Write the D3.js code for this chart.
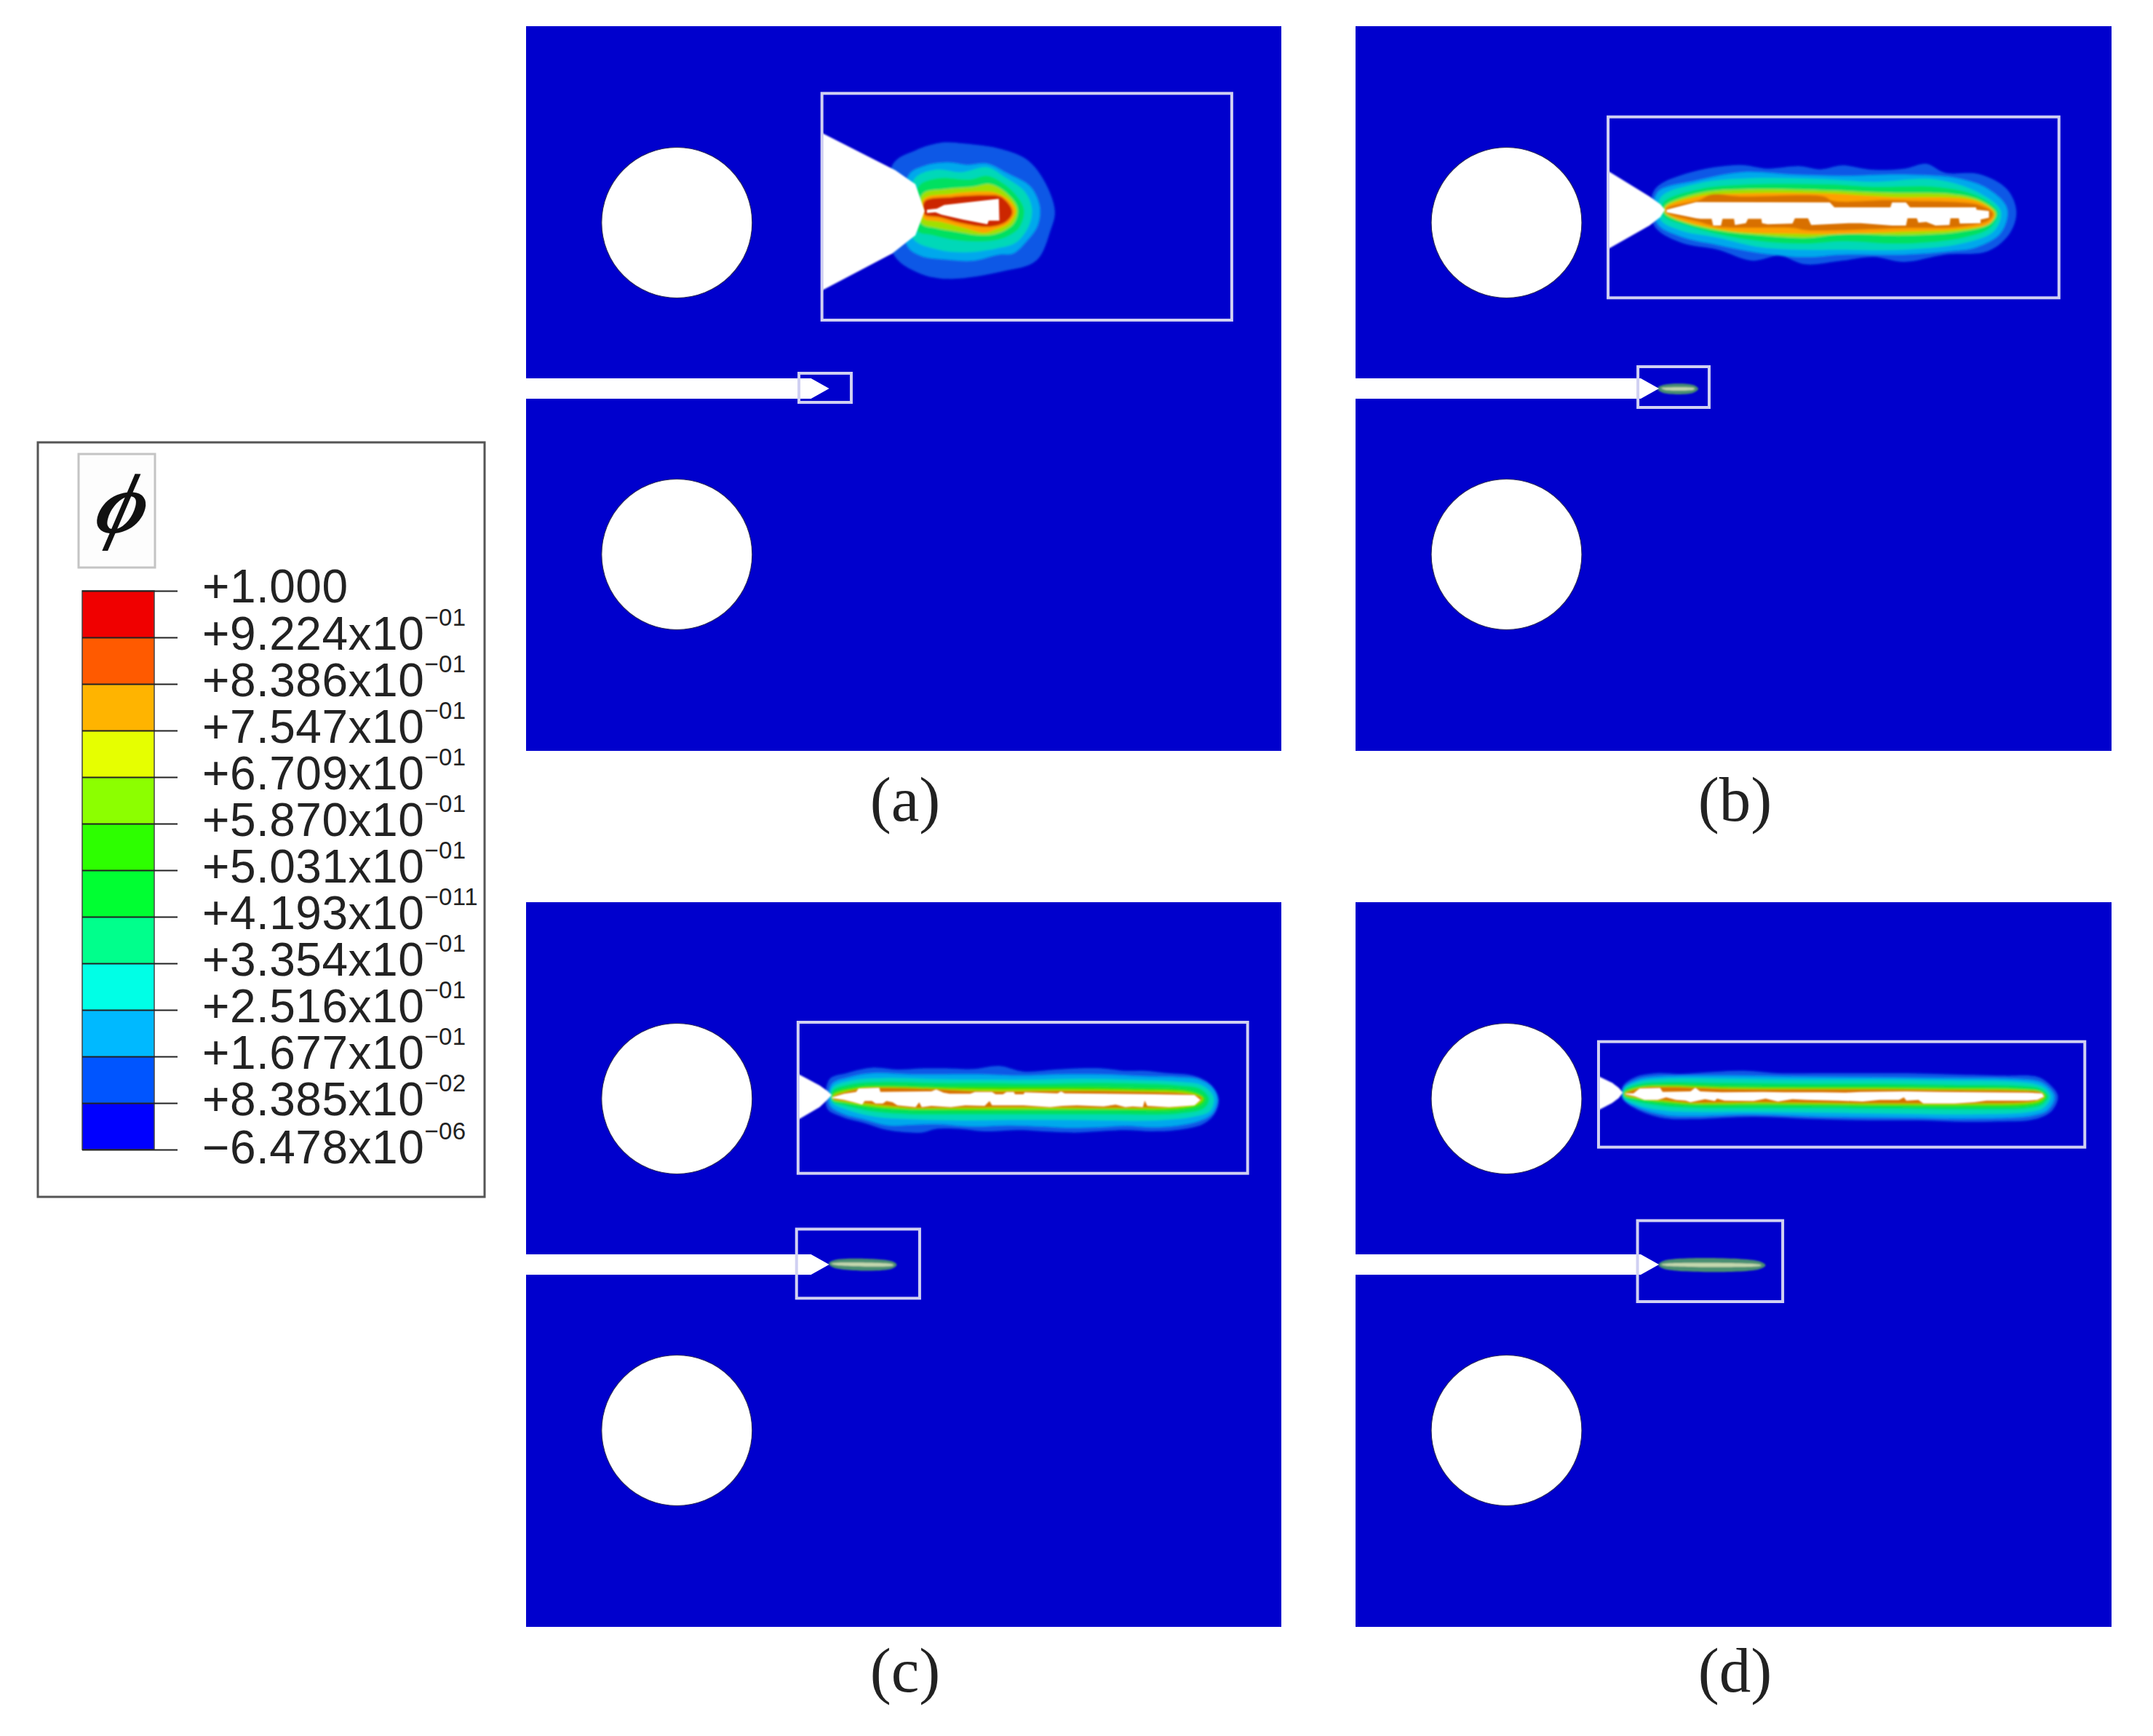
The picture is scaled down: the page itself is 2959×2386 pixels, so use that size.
<!DOCTYPE html>
<html><head><meta charset="utf-8">
<style>html,body{margin:0;background:#fff}svg{display:block}</style>
<script src="https://cdn.jsdelivr.net/npm/d3@7/dist/d3.min.js"></script>
</head><body><script>
// ---------- legend ----------
const legendLabels = [["+1.000",""],["+9.224x10","−01"],["+8.386x10","−01"],["+7.547x10","−01"],["+6.709x10","−01"],["+5.870x10","−01"],["+5.031x10","−01"],["+4.193x10","−011"],["+3.354x10","−01"],["+2.516x10","−01"],["+1.677x10","−01"],["+8.385x10","−02"],["−6.478x10","−06"]];
const legendColors = ["#f00000","#ff5a00","#ffb400","#e6ff00","#8cff00","#2dff00","#00ff32","#00ff8c","#00ffe6","#00b9ff","#0055ff","#0000ff"];
// ---------- field colours, outside to inside ----------
const bandColors = ["#0a58e6","#00a8ec","#00d8b8","#00e060","#20e000","#a0e000","#ffa000","#cc2800","#4a8f72","#c4d8ae","#d87000"];
const panelLabels = ["(a)","(b)","(c)","(d)"];
// ---------- plate geometry (plate units) ----------
const holeCentres = [[207.5,270],[207.5,726]];
const holeRadius = 103.5;
const notch = [[0,484],[392,484],[417,498],[392,512],[0,512]];
// ---------- zoom-window frames, in window units ----------
const framesA = [[75,55,1500,990],[-5,1209,177,1329]];
const framesB = [[47,32,1497,778],[143,1062,372,1230]];
const framesC = [[40,45,1508,668],[35,898,437,1183]];
const framesD = [[38,65,1535,500],[158,803,605,1137]];
// ---------- wedge (enlarged crack tip) ----------
const wedgeA = [[75,218],[330,372],[400,430],[432,540],[400,640],[320,715],[75,868]];
const wedgeB = [[47,255],[180,360],[215,392],[230,415],[215,445],[180,480],[47,577]];
const wedgeC = [[40,258],[110,305],[135,328],[150,345],[135,365],[110,395],[40,447]];
const wedgeD = [[38,208],[80,235],[100,255],[113,275],[100,298],[80,318],[38,347]];
// ---------- contour bands [colour index, outline] ----------
const fieldA = [
 [0,[[320,350],[400,290],[490,258],[570,262],[700,285],[790,330],[850,420],[885,540],[870,620],[820,745],[700,790],[510,820],[400,790],[320,710]]],
 [1,[[375,395],[430,355],[510,340],[580,350],[650,345],[720,385],[800,440],[832,520],[825,600],[790,660],[740,715],[690,720],[600,745],[510,740],[420,725],[370,680]]],
 [2,[[395,410],[470,370],[560,380],[650,360],[710,400],[780,460],[805,530],[795,600],[750,670],[680,695],[580,710],[480,700],[390,650]]],
 [3,[[410,440],[480,405],[590,410],[650,395],[710,430],[760,490],[778,540],[760,610],[710,650],[640,665],[540,660],[460,640],[405,620]]],
 [5,[[425,470],[500,450],[600,440],[660,430],[720,470],[755,530],[742,590],[690,630],[630,640],[540,625],[470,610],[420,590]]],
 [6,[[430,490],[520,470],[620,460],[680,465],[730,500],[748,540],[725,590],[680,615],[640,630],[570,610],[490,585],[428,570]]],
 [7,[[432,500],[530,482],[640,475],[695,480],[730,520],[737,550],[715,585],[660,605],[560,590],[480,565],[432,555]]]
];
const crackA = [[440,535],[475,530],[500,515],[690,490],[692,580],[655,580],[650,595],[565,575],[490,555],[470,545],[440,548]];
const fieldB = [
 [0,[[195,335],[300,265],[470,230],[560,245],[660,235],[730,248],[800,232],[900,250],[1000,245],[1070,225],[1130,262],[1240,268],[1330,330],[1360,420],[1340,510],[1270,585],[1130,600],[1000,630],[900,610],[800,625],[680,640],[600,605],[510,625],[400,580],[280,550],[195,480]]],
 [1,[[205,345],[330,295],[480,260],[640,270],[800,275],[1000,270],[1170,285],[1270,330],[1330,410],[1310,510],[1230,570],[1150,585],[1000,600],[800,600],[680,610],[520,590],[400,560],[280,525],[205,470]]],
 [2,[[215,365],[340,305],[500,285],[760,290],[900,300],[1100,290],[1240,345],[1310,420],[1290,500],[1200,550],[1000,580],[800,580],[680,580],[540,570],[400,530],[280,500],[215,455]]],
 [3,[[225,385],[340,330],[500,310],[760,310],[900,320],[1100,320],[1230,355],[1300,425],[1275,490],[1190,530],[1000,555],[800,545],[680,555],[540,545],[400,515],[300,480],[225,440]]],
 [5,[[230,400],[345,345],[500,330],[760,335],[950,345],[1150,350],[1240,375],[1295,430],[1270,475],[1180,505],[1000,520],[800,515],[680,530],[540,520],[400,500],[300,470],[230,430]]],
 [6,[[232,405],[345,358],[480,347],[740,347],[950,362],[1230,378],[1290,430],[1275,470],[1180,495],[1010,505],[690,515],[400,495],[232,428]]],
 [10,[[235,410],[340,375],[380,352],[470,360],[740,360],[770,378],[950,375],[1015,378],[1240,395],[1285,430],[1270,460],[1180,485],[1010,490],[690,500],[640,490],[400,485],[340,465],[235,425]]]
];
const crackB = [[235,415],[330,383],[760,385],[775,405],[955,405],[960,385],[1005,385],[1018,405],[1230,405],[1232,415],[1272,420],[1272,448],[1245,455],[1245,470],[1178,472],[1175,450],[1148,450],[1145,478],[1100,480],[1070,465],[1045,468],[1040,450],[1010,450],[1005,480],[960,480],[860,470],[820,470],[700,478],[690,450],[648,450],[640,472],[560,475],[542,470],[540,452],[497,452],[490,470],[455,478],[452,452],[415,452],[410,480],[385,480],[380,452],[345,452],[330,450],[235,425]];
const fieldC = [
 [0,[[60,70],[130,45],[240,22],[340,30],[450,25],[540,25],[650,28],[760,15],[860,38],[990,30],[1090,25],[1180,25],[1280,35],[1360,35],[1460,45],[1560,55],[1630,90],[1665,150],[1650,210],[1600,255],[1490,280],[1390,285],[1280,280],[1170,285],[1070,290],[940,285],[850,280],[700,285],[600,275],[500,275],[440,290],[300,280],[200,250],[110,225],[50,190]]],
 [1,[[70,90],[140,62],[240,45],[400,50],[540,50],[700,50],[850,55],[1000,50],[1180,50],[1360,58],[1500,62],[1580,70],[1640,105],[1660,150],[1640,210],[1590,240],[1490,262],[1390,268],[1280,262],[1170,268],[1040,270],[940,265],[800,260],[650,265],[500,255],[400,258],[300,260],[200,235],[110,210],[60,175]]],
 [2,[[72,105],[150,75],[280,65],[500,70],[700,72],[900,72],[1100,68],[1300,72],[1500,80],[1590,92],[1630,120],[1645,150],[1630,200],[1560,225],[1400,240],[1200,240],[1000,238],[800,238],[600,240],[400,235],[250,225],[130,195],[70,165]]],
 [3,[[72,118],[160,88],[300,80],[500,85],[700,85],[900,88],[1200,85],[1500,95],[1590,110],[1625,150],[1605,190],[1500,212],[1200,215],[900,215],[600,215],[400,215],[250,205],[130,180],[70,160]]],
 [4,[[74,128],[170,100],[300,95],[500,100],[700,100],[1000,100],[1300,105],[1560,120],[1610,150],[1590,178],[1500,198],[1200,198],[900,198],[600,200],[400,198],[250,190],[130,170],[72,155]]],
 [5,[[76,135],[175,108],[300,103],[500,108],[700,112],[1000,112],[1300,115],[1560,128],[1600,150],[1580,172],[1500,188],[1200,192],[900,192],[600,192],[400,192],[250,182],[130,165],[74,152]]],
 [10,[[80,140],[175,112],[265,105],[480,110],[700,120],[1000,118],[1300,120],[1555,133],[1595,150],[1570,168],[1500,182],[1200,188],[900,185],[600,187],[400,188],[250,175],[130,160],[75,150]]]
];
const crackC = [[70,145],[120,130],[170,122],[180,108],[265,105],[270,122],[480,120],[500,112],[530,125],[555,130],[640,130],[660,122],[730,122],[745,132],[775,132],[790,122],[820,122],[825,132],[860,132],[865,124],[1000,128],[1015,120],[1030,128],[1200,130],[1400,132],[1565,135],[1590,155],[1565,178],[1460,185],[1370,180],[1360,158],[1352,185],[1310,182],[1280,185],[1240,175],[1190,182],[1080,178],[1020,180],[970,185],[860,178],[780,178],[730,178],[720,160],[700,180],[620,178],[560,185],[480,180],[440,185],[430,165],[415,185],[340,178],[320,165],[295,160],[280,170],[250,170],[235,160],[205,160],[195,175],[160,165],[120,155],[70,148]];
const fieldD = [
 [0,[[60,100],[110,62],[200,45],[300,48],[430,40],[570,35],[700,45],[850,45],[1030,45],[1230,45],[1430,50],[1630,55],[1770,60],[1820,90],[1855,140],[1830,200],[1760,235],[1580,245],[1430,245],[1280,240],[1080,240],[850,235],[600,225],[350,235],[240,232],[130,200],[60,150]]],
 [1,[[65,105],[120,72],[220,58],[500,55],[800,60],[1100,62],[1400,65],[1700,70],[1790,85],[1840,140],[1815,195],[1750,220],[1500,232],[1200,228],[900,225],[600,215],[350,222],[240,218],[130,190],[60,148]]],
 [2,[[66,110],[125,80],[230,68],[500,68],[800,72],[1100,72],[1400,75],[1700,82],[1790,100],[1825,140],[1800,185],[1740,205],[1500,215],[1200,212],[900,208],[600,205],[350,205],[240,200],[130,180],[62,145]]],
 [3,[[68,115],[130,90],[240,82],[500,85],[800,88],[1100,88],[1400,92],[1700,97],[1785,110],[1815,140],[1790,175],[1730,190],[1500,195],[1200,192],[900,190],[600,190],[350,188],[240,182],[130,165],[65,142]]],
 [4,[[70,120],[135,98],[240,92],[500,98],[800,100],[1100,100],[1400,103],[1700,108],[1780,118],[1808,140],[1785,168],[1730,180],[1500,184],[1200,182],[900,180],[600,178],[350,178],[240,170],[130,155],[65,138]]],
 [5,[[72,124],[140,103],[240,98],[500,106],[800,108],[1100,108],[1400,110],[1700,113],[1780,122],[1800,140],[1780,160],[1730,170],[1500,175],[1200,175],[900,172],[600,170],[350,170],[240,162],[130,150],[68,135]]],
 [10,[[74,127],[140,106],[240,102],[500,110],[800,112],[1100,112],[1400,115],[1700,118],[1785,125],[1796,142],[1775,155],[1730,165],[1500,170],[1200,170],[900,168],[600,165],[350,167],[240,158],[130,146],[70,132]]]
];
const crackD = [[72,128],[105,128],[130,108],[215,106],[225,122],[340,120],[360,105],[380,120],[430,122],[470,124],[640,122],[725,124],[880,124],[980,125],[1040,122],[1230,120],[1370,122],[1730,125],[1790,128],[1798,142],[1770,155],[1730,158],[1560,158],[1510,165],[1430,170],[1300,170],[1280,155],[1230,158],[1220,145],[1200,155],[1120,155],[1050,162],[950,158],[820,155],[760,152],[700,162],[650,150],[600,160],[480,158],[450,150],[440,160],[400,152],[340,165],[320,158],[280,155],[240,145],[205,155],[150,155],[110,140],[72,132]];
const tipFieldB = [[8,[[205,1152],[225,1137],[320,1137],[337,1153],[320,1170],[225,1170]]],[9,[[218,1150],[230,1148],[320,1149],[326,1153],[320,1157],[230,1157]]]];
const tipFieldC = [[8,[[140,1040],[160,1025],[345,1030],[362,1045],[345,1062],[160,1058]]],[9,[[148,1040],[165,1037],[345,1042],[352,1046],[345,1050],[165,1046]]]];
const tipFieldD = [[8,[[222,985],[240,968],[530,970],[552,987],[530,1004],[240,1002]]],[9,[[230,984],[245,980],[530,983],[540,987],[530,991],[245,989]]]];

// ---------- layout ----------
const W = 2959, H = 2386;
const panels = [
 {x:723, y:36,  view:[1100,110,2.53,3], fine:[1100,110,2.53,3], frames:framesA,wedge:wedgeA,field:fieldA,crack:crackA,tip:[]},
 {x:1863,y:36,  view:[2190,150,2.34,3], fine:[2190,150,2.34,3], frames:framesB,wedge:wedgeB,field:fieldB,crack:crackB,tip:tipFieldB},
 {x:723, y:1240,view:[1080,1390,2.376,3],fine:[1120,1460,3,3], frames:framesC,wedge:wedgeC,field:fieldC,crack:crackC,tip:tipFieldC},
 {x:1863,y:1240,view:[2180,1410,2.24,3], fine:[2210,1460,3,3], frames:framesD,wedge:wedgeD,field:fieldD,crack:crackD,tip:tipFieldD}
];
const svg = d3.select("body").append("svg").attr("width",W).attr("height",H).attr("viewBox",[0,0,W,H]);
const defs = svg.append("defs");
defs.append("filter").attr("id","soft").attr("x","-5%").attr("y","-10%").attr("width","110%").attr("height","120%")
  .append("feGaussianBlur").attr("stdDeviation",1.6);
defs.append("filter").attr("id","soft2").attr("x","-5%").attr("y","-20%").attr("width","110%").attr("height","140%")
  .append("feGaussianBlur").attr("stdDeviation",0.9);

const PW = 1039, PH = 996;
const winScale = (o,s)=>d3.scaleLinear().domain([0,3000]).range([o,o+3000/s]);
panels.forEach((p,i)=>{
  const px = d3.scaleLinear().domain([0,PW]).range([p.x,p.x+PW-(i%2?0:1)]);
  const py = d3.scaleLinear().domain([0,PH]).range([p.y,p.y+PH]);
  const fx = winScale(p.view[0],p.view[2]), fy = winScale(p.view[1],p.view[3]);
  const nx = winScale(p.fine[0],p.fine[2]), ny = winScale(p.fine[1],p.fine[3]);
  const plate = d3.line().x(d=>px(d[0])).y(d=>py(d[1]));
  const sharp = d3.line().x(d=>fx(d[0])).y(d=>fy(d[1]));
  const smooth = d3.line().x(d=>fx(d[0])).y(d=>fy(d[1])).curve(d3.curveCatmullRomClosed.alpha(0.5));
  const fineSharp = d3.line().x(d=>nx(d[0])).y(d=>ny(d[1]));
  const fineSmooth = d3.line().x(d=>nx(d[0])).y(d=>ny(d[1])).curve(d3.curveCatmullRomClosed.alpha(0.5));
  const g = svg.append("g").attr("class","panel");
  g.append("rect").attr("x",px(0)).attr("y",py(0)).attr("width",px(PW)-px(0)).attr("height",py(PH)-py(0)).attr("fill","#0000cd");
  g.selectAll("circle").data(holeCentres).join("circle")
    .attr("cx",d=>px(d[0])).attr("cy",d=>py(d[1])).attr("r",holeRadius).attr("fill","#fff").attr("stroke","#2a2a5a").attr("stroke-width",1.2);
  const tipG = g.append("g").attr("filter","url(#soft2)");
  tipG.selectAll("path").data(p.tip).join("path").attr("d",d=>smooth(d[1])).attr("fill",d=>bandColors[d[0]]);
  g.append("path").attr("d",plate(notch)+"Z").attr("fill","#fff");
  const fg = g.append("g").attr("filter","url(#soft)");
  fg.selectAll("path").data(p.field).join("path").attr("d",d=>fineSmooth(d[1])).attr("fill",d=>bandColors[d[0]]);
  const inner = g.append("g").attr("filter","url(#soft2)");
  inner.append("path").attr("d",fineSharp(p.crack)+"Z").attr("fill","#fff");
  inner.append("path").attr("d",sharp(p.wedge)+"Z").attr("fill","#fff");
  g.selectAll("rect.frame").data(p.frames).join("rect").attr("class","frame")
    .attr("x",d=>fx(d[0])).attr("y",d=>fy(d[1])).attr("width",d=>fx(d[2])-fx(d[0])).attr("height",d=>fy(d[3])-fy(d[1]))
    .attr("fill","none").attr("stroke","#d0d0f2").attr("stroke-width",4);
  g.append("text").attr("x",px(PW/2)+2).attr("y",py(PH)+(i<2?96:89))
    .attr("text-anchor","middle").attr("font-family","Liberation Serif").attr("font-size",87).attr("fill","#222").text(panelLabels[i]);
});

// ---------- legend ----------
const lg = svg.append("g").attr("class","legend");
lg.append("rect").attr("x",52).attr("y",608).attr("width",614).attr("height",1037).attr("fill","#fff").attr("stroke","#555").attr("stroke-width",3);
lg.append("rect").attr("x",108).attr("y",624).attr("width",105).attr("height",156).attr("fill","#fdfdfd").attr("stroke","#c4c4c4").attr("stroke-width",3);
lg.append("text").attr("transform","translate(161,732) skewX(-14)").attr("text-anchor","middle").attr("font-family","Liberation Serif").attr("font-style","italic").attr("font-weight","bold").attr("font-size",118).attr("fill","#111").text("\u03D5");
const ly = d3.scalePoint().domain(d3.range(legendLabels.length)).range([812,1580]);
lg.selectAll("rect.swatch").data(legendColors).join("rect").attr("class","swatch")
  .attr("x",113).attr("width",99).attr("y",(d,i)=>ly(i)).attr("height",(d,i)=>ly(i+1)-ly(i)).attr("fill",d=>d);
lg.append("rect").attr("x",113).attr("y",812).attr("width",99).attr("height",768).attr("fill","none").attr("stroke","#444").attr("stroke-width",1.5);
const axis = d3.axisRight(ly).tickSize(0).tickFormat("");
const axG = lg.append("g").attr("transform","translate(113,0)").call(axis);
axG.select(".domain").remove();
axG.selectAll(".tick line").attr("x2",131).attr("stroke","#222").attr("stroke-width",2);
const lt = lg.selectAll("text.lab").data(legendLabels).join("text").attr("class","lab")
  .attr("x",278).attr("y",(d,i)=>ly(i)+(i===0?16:i===12?19:17))
  .attr("font-family","Liberation Sans").attr("font-size",64).attr("letter-spacing",0.5).attr("fill","#222");
lt.append("tspan").text(d=>d[0]);
lt.append("tspan").attr("dy",-33).attr("font-size",33).text(d=>d[1]);
</script></body></html>
